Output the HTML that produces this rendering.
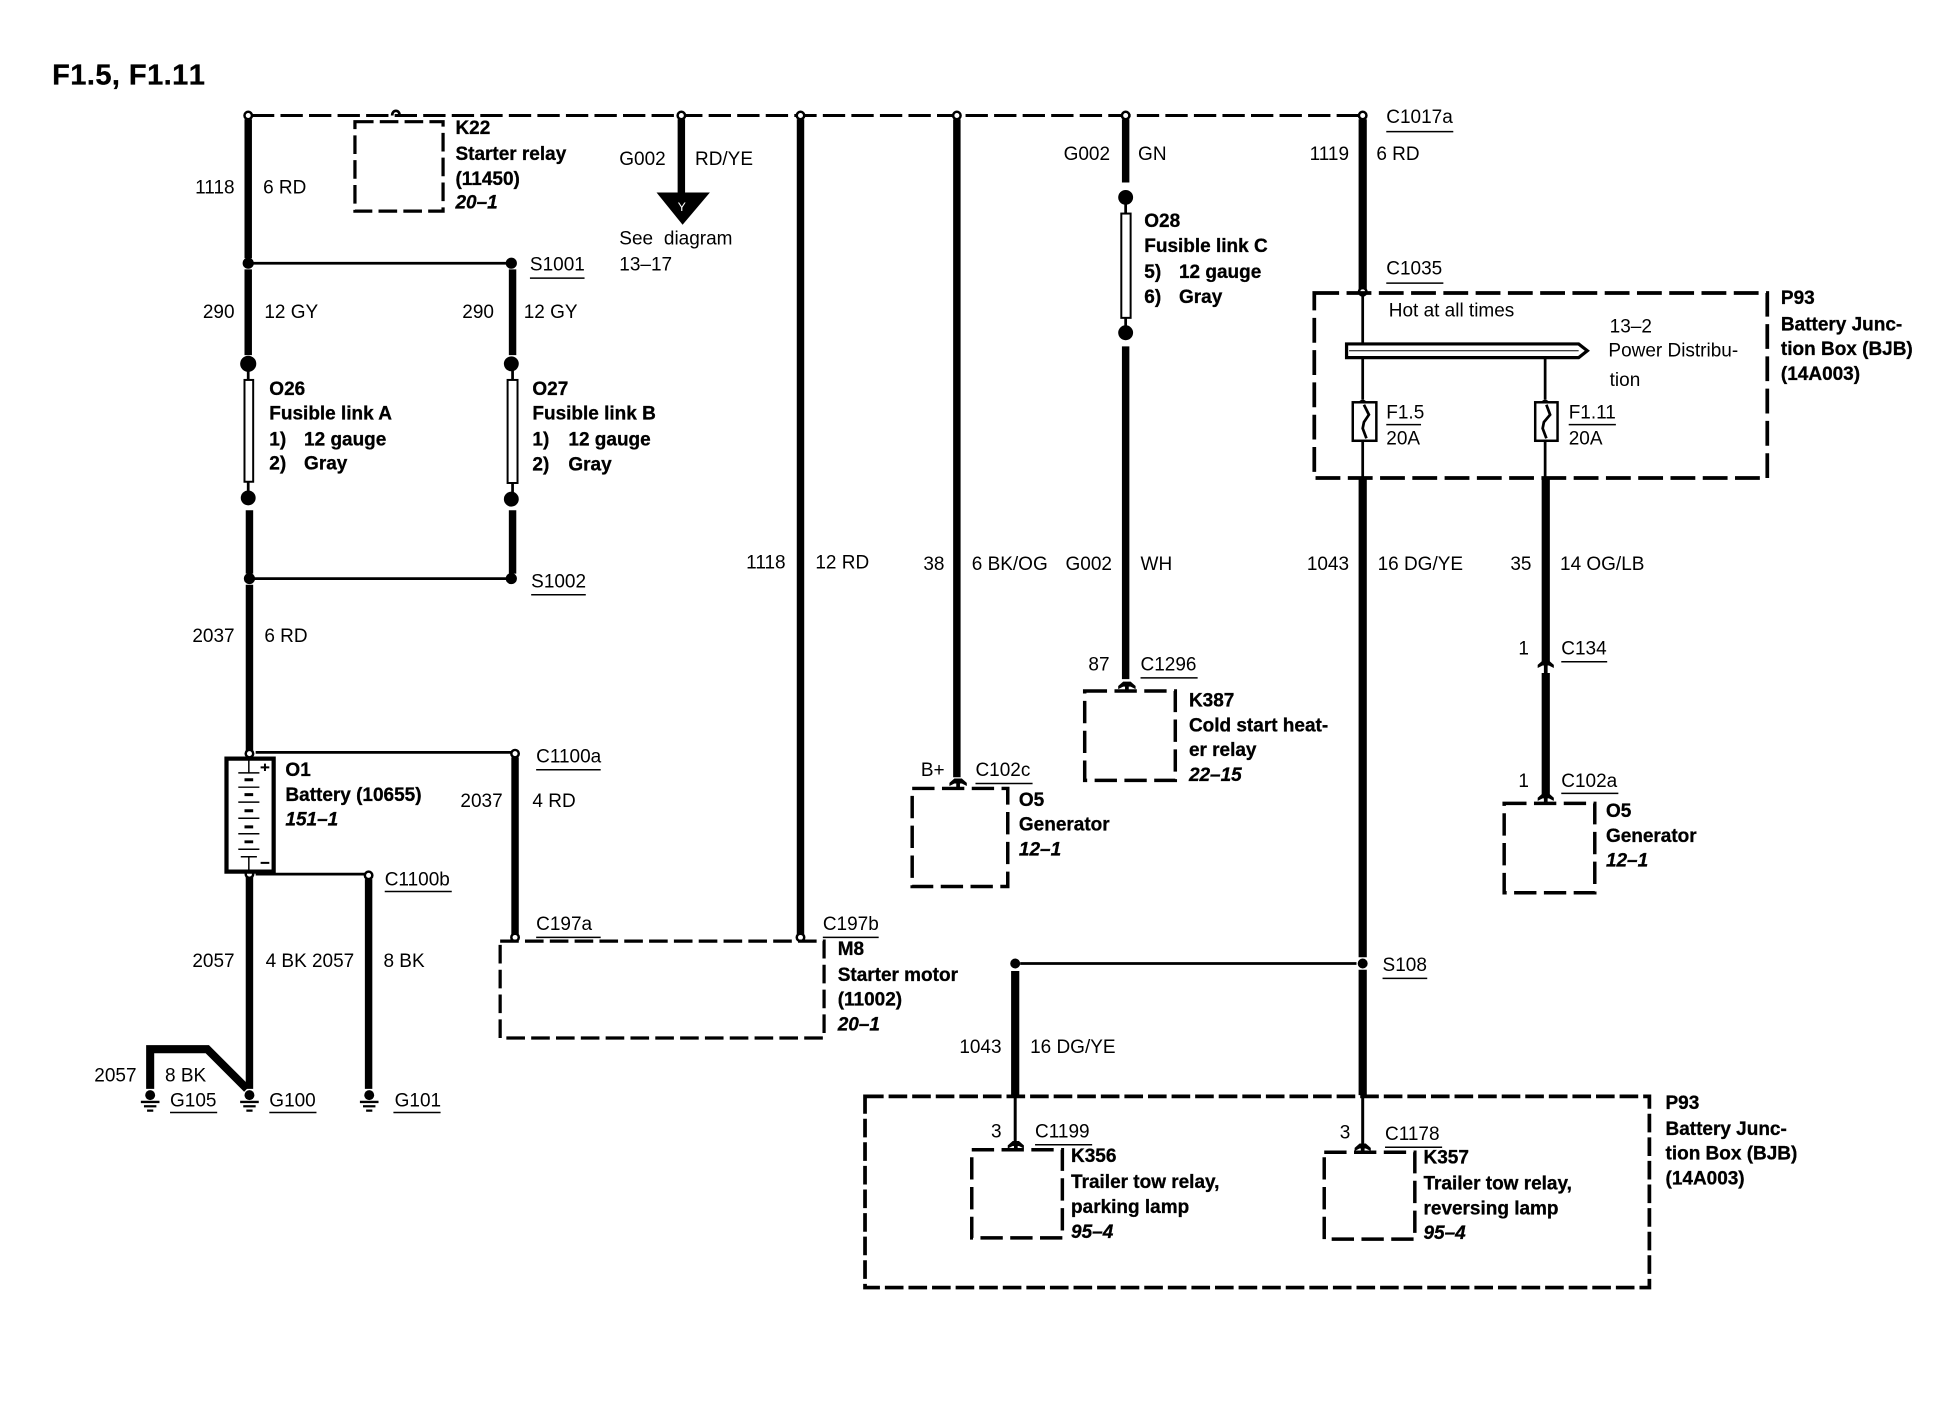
<!DOCTYPE html>
<html><head><meta charset="utf-8"><style>
html,body{margin:0;padding:0;background:#fff}
svg{display:block}
text{font-family:"Liberation Sans",sans-serif;font-size:15.3px;fill:#000}
.b{font-weight:bold;stroke:#000;stroke-width:.25}
.i{font-weight:bold;font-style:italic;stroke:#000;stroke-width:.25}
.e{text-anchor:end}
.w{stroke:#000;stroke-width:6;fill:none}
.t{stroke:#000;stroke-width:2.2;fill:none}
.d{stroke:#000;stroke-width:2.6;fill:none;stroke-dasharray:15 5}
.s{stroke:#000;stroke-width:2.8;fill:none;stroke-dasharray:18 6}
.l{stroke:#000;stroke-width:1.2;fill:none}
.o{fill:#fff;stroke:#000;stroke-width:2}
</style></head><body>
<svg width="1946" height="1408" viewBox="0 0 1568 1134" preserveAspectRatio="none" xmlns="http://www.w3.org/2000/svg">
<rect width="1568" height="1134" fill="#fff"/>
<text x="42" y="68" class="b" style="font-size:23.4px;letter-spacing:.35px;font-kerning:none">F1.5, F1.11</text>

<!-- top dashed bus -->
<path d="M203 93H1096" stroke="#000" stroke-width="2.4" fill="none" stroke-dasharray="18 5"/>
<path d="M316 93c0-5 6-5 6 0" class="t"/>

<!-- left column -->
<path class="w" d="M200 96V208M200 217V286M201 411V462M201 471V606M201 706V877M297 708V877M413 217V286M413 411V462M415 610V753M645 96V754M771 96V626M907 96V147M907 279V547M549 96V156"/>
<path class="t" d="M204 212H408M204 466H408M206 606H414M206 704H297M200 293V306M200 388V401M413 293V306M413 389V402M907 159V172M907 256V268"/>
<rect x="197" y="306" width="7" height="82" fill="#fff" stroke="#000" stroke-width="1.6"/>
<rect x="409" y="306" width="8" height="83" fill="#fff" stroke="#000" stroke-width="1.6"/>
<rect x="903.5" y="172" width="7.5" height="84" fill="#fff" stroke="#000" stroke-width="1.6"/>
<g fill="#000">
<circle cx="200" cy="212" r="4.5"/><circle cx="412" cy="212" r="4.5"/>
<circle cx="200" cy="293" r="6.5"/><circle cx="412" cy="293" r="6"/>
<circle cx="200" cy="401" r="6"/><circle cx="412" cy="402" r="6"/>
<circle cx="201" cy="466" r="4.5"/><circle cx="412" cy="466" r="4.5"/>
<circle cx="907" cy="159" r="6"/><circle cx="907" cy="268" r="6"/>
<circle cx="1098" cy="776" r="4"/><circle cx="818" cy="776" r="4"/>
</g>
<g class="o">
<circle class="o" cx="200" cy="93" r="3"/><circle class="o" cx="549" cy="93" r="3"/><circle class="o" cx="645" cy="93" r="3"/><circle class="o" cx="771" cy="93" r="3"/><circle class="o" cx="907" cy="93" r="3"/><circle class="o" cx="1098" cy="93" r="3"/>
<circle class="o" cx="1098" cy="235" r="3"/><circle class="o" cx="201" cy="607" r="3"/><circle class="o" cx="415" cy="607" r="3"/><circle class="o" cx="415" cy="755" r="3"/><circle class="o" cx="645" cy="755" r="3"/><circle class="o" cx="297" cy="705" r="3"/><circle class="o" cx="201" cy="704" r="3"/>
</g>

<!-- battery -->
<rect x="182.500" y="611" width="38" height="91" fill="#fff" stroke="#000" stroke-width="3.4"/>
<path class="l" stroke-width="1.6" d="M200.500 611V622M192 622.500H209M192 634H209M192 646H209M192 659H209M192 671.500H209M192 684H209M200.500 690V702M194 690H207"/>
<path d="M197 628H204M197 640H204M197 653H204M197 666H204M197 678H204" stroke="#000" stroke-width="2.4"/>
<path d="M210 618H217M213.500 615V621M210 695H217" stroke="#000" stroke-width="1.6"/>

<!-- grounds -->
<path d="M121 877V845H167L199 877" stroke="#000" stroke-width="6.500" fill="none"/>
<g fill="#000">
<circle cx="121" cy="882" r="4"/><path d="M113.500 887.500H128.500" stroke="#000" stroke-width="2"/><path d="M116 891H126" stroke="#000" stroke-width="1.8"/><path d="M118.500 894.500H123.500" stroke="#000" stroke-width="1.800"/>
<circle cx="201" cy="882" r="4"/><path d="M193.500 887.500H208.500" stroke="#000" stroke-width="2"/><path d="M196 891H206" stroke="#000" stroke-width="1.8"/><path d="M198.500 894.500H203.500" stroke="#000" stroke-width="1.8"/>
<circle cx="297.500" cy="882" r="4"/><path d="M290 887.500H305" stroke="#000" stroke-width="2"/><path d="M292.500 891H302.500" stroke="#000" stroke-width="1.8"/><path d="M295 894.500H300" stroke="#000" stroke-width="1.8"/>
</g>

<!-- Y arrow -->
<path d="M529 155H572L550 181Z" fill="#000"/>
<text x="546" y="170" style="fill:#fff;font-size:10px">Y</text>

<!-- dashed boxes -->
<rect class="d" x="286" y="98" width="71" height="72"/>
<rect class="d" x="403" y="758" width="261" height="78"/>
<rect class="s" x="874" y="556.500" width="73" height="72"/>
<rect class="s" x="735" y="635" width="77" height="79"/>
<rect class="s" x="1212" y="647" width="73" height="72"/>
<rect class="s" x="783" y="926" width="73" height="71"/>
<rect class="s" x="1067" y="928" width="73" height="70"/>
<rect class="d" x="1059" y="236" width="365" height="149" style="stroke-width:3;stroke-dasharray:20 6"/>
<rect class="d" x="697" y="883" width="632" height="154" style="stroke-width:3;stroke-dasharray:15 4"/>

<!-- right side wiring -->
<path class="w" d="M1098 96V233M1098 384V771M1098 781V882M818 782V882M1245.500 384V534M1245.500 542V640" style="stroke-width:6.600"/>
<path class="t" d="M1098 238V277M1098 288V322M1098 355V384M1245 288V322M1245 355V384M822 776H1093"/>
<path d="M1098 882V924M818 882V922" stroke="#000" stroke-width="2.400" fill="none"/>
<path d="M1085 277H1272L1279 282.500L1272 288H1085Z" fill="#fff" stroke="#000" stroke-width="2.6"/>
<path d="M1087 282.500H1272" stroke="#000" stroke-width=".8"/>
<circle cx="1098" cy="326" r="4" fill="#000"/><circle cx="1245" cy="326" r="4" fill="#000"/>
<rect x="1090" y="324" width="19" height="31" fill="#fff" stroke="#000" stroke-width="2"/>
<rect x="1237" y="324" width="18" height="31" fill="#fff" stroke="#000" stroke-width="2"/>
<path class="t" d="M1099 326l4 8-4 6-1 5 3 8M1246 326l3 8-5 6-1 5 3 8"/>

<!-- arrow terminals -->
<g fill="#000">
<path d="M901 555V552.500L905 549H911L915 552.500V555L911 553H909.500V557H906.500V553H905Z"/>
<path d="M765 633V630.500L769 627H775L779 630.500V633L775 631H773.500V636H770.500V631H769Z"/>
<path d="M1239 538V535.500L1243 532H1248L1252 535.500V538L1248 536H1247V543H1244V536H1243Z"/>
<path d="M1239 645V642.500L1243 639H1248L1252 642.500V645L1248 643H1247V648H1244V643H1243Z"/>
<path d="M812 925V922.500L816 919H821L825 922.500V925L821 923H820V927H817V923H816Z"/>
<path d="M1091.500 927V924.500L1095.500 921H1100.500L1104.500 924.500V927L1100.500 925H1099.500V929H1096.500V925H1095.500Z"/>
</g>

<!-- underlines -->
<path class="l" d="M427 224H471M428 479H472M432 620H484M310 718H364M432 755H484M663 755H708M1117 106H1171M1117 228H1163M1117 342H1145M1264 342H1302M919 546H965M786 631H832M1258 533H1295M1258 639H1304M834 922H880M1116 924H1162M137 896H175M217 896H255M317 896H355M1114 788H1150"/>

<!-- labels regular -->
<text x="189" y="156" class="e">1118</text><text x="212" y="156">6 RD</text>
<text x="189" y="256" class="e">290</text><text x="213" y="256">12 GY</text>
<text x="398" y="256" class="e">290</text><text x="422" y="256">12 GY</text>
<text x="427" y="218">S1001</text><text x="428" y="473">S1002</text>
<text x="189" y="517" class="e">2037</text><text x="213" y="517">6 RD</text>
<text x="405" y="650" class="e">2037</text><text x="429" y="650">4 RD</text>
<text x="432" y="614">C1100a</text><text x="310" y="713">C1100b</text>
<text x="432" y="749">C197a</text><text x="663" y="749">C197b</text>
<text x="189" y="779" class="e">2057</text><text x="214" y="779">4 BK 2057</text><text x="309" y="779">8 BK</text>
<text x="110" y="871" class="e">2057</text><text x="133" y="871">8 BK</text>
<text x="137" y="891">G105</text><text x="217" y="891">G100</text><text x="318" y="891">G101</text>
<text x="499" y="133">G002</text><text x="560" y="133">RD/YE</text>
<text x="499" y="197" style="word-spacing:4.5px">See diagram</text><text x="499" y="218">13–17</text>
<text x="857" y="129">G002</text><text x="917" y="129">GN</text>
<text x="633" y="458" class="e">1118</text><text x="657" y="458">12 RD</text>
<text x="761" y="459" class="e">38</text><text x="783" y="459">6 BK/OG</text>
<text x="896" y="459" class="e">G002</text><text x="919" y="459">WH</text>
<text x="1087" y="459" class="e">1043</text><text x="1110" y="459">16 DG/YE</text>
<text x="1234" y="459" class="e">35</text><text x="1257" y="459">14 OG/LB</text>
<text x="894" y="540" class="e">87</text><text x="919" y="540">C1296</text>
<text x="742" y="625">B+</text><text x="786" y="625">C102c</text>
<text x="1232" y="527" class="e">1</text><text x="1258" y="527">C134</text>
<text x="1232" y="634" class="e">1</text><text x="1258" y="634">C102a</text>
<text x="1117" y="99">C1017a</text>
<text x="1087" y="129" class="e">1119</text><text x="1109" y="129">6 RD</text>
<text x="1117" y="221">C1035</text>
<text x="1119" y="255">Hot at all times</text>
<text x="1297" y="268">13–2</text><text x="1296" y="287">Power Distribu-</text><text x="1297" y="311">tion</text>
<text x="1117" y="337">F1.5</text><text x="1117" y="358">20A</text>
<text x="1264" y="337">F1.11</text><text x="1264" y="358">20A</text>
<text x="1114" y="782">S108</text>
<text x="807" y="848" class="e">1043</text><text x="830" y="848">16 DG/YE</text>
<text x="807" y="916" class="e">3</text><text x="834" y="916">C1199</text>
<text x="1088" y="917" class="e">3</text><text x="1116" y="918">C1178</text>

<!-- labels bold -->
<text x="367" y="108" class="b">K22</text><text x="367" y="129" class="b">Starter relay</text><text x="367" y="149" class="b">(11450)</text><text x="367" y="168" class="i">20–1</text>
<text x="217" y="318" class="b">O26</text><text x="217" y="338" class="b">Fusible link A</text><text x="217" y="359" class="b">1)</text><text x="245" y="359" class="b">12 gauge</text><text x="217" y="378" class="b">2)</text><text x="245" y="378" class="b">Gray</text>
<text x="429" y="318" class="b">O27</text><text x="429" y="338" class="b">Fusible link B</text><text x="429" y="359" class="b">1)</text><text x="458" y="359" class="b">12 gauge</text><text x="429" y="379" class="b">2)</text><text x="458" y="379" class="b">Gray</text>
<text x="922" y="183" class="b">O28</text><text x="922" y="203" class="b">Fusible link C</text><text x="922" y="224" class="b">5)</text><text x="950" y="224" class="b">12 gauge</text><text x="922" y="244" class="b">6)</text><text x="950" y="244" class="b">Gray</text>
<text x="230" y="625" class="b">O1</text><text x="230" y="645" class="b">Battery (10655)</text><text x="230" y="665" class="i">151–1</text>
<text x="675" y="769" class="b">M8</text><text x="675" y="790" class="b">Starter motor</text><text x="675" y="810" class="b">(11002)</text><text x="675" y="830" class="i">20–1</text>
<text x="958" y="569" class="b">K387</text><text x="958" y="589" class="b">Cold start heat-</text><text x="958" y="609" class="b">er relay</text><text x="958" y="629" class="i">22–15</text>
<text x="821" y="649" class="b">O5</text><text x="821" y="669" class="b">Generator</text><text x="821" y="689" class="i">12–1</text>
<text x="1294" y="658" class="b">O5</text><text x="1294" y="678" class="b">Generator</text><text x="1294" y="698" class="i">12–1</text>
<text x="1435" y="245" class="b">P93</text><text x="1435" y="266" class="b">Battery Junc-</text><text x="1435" y="286" class="b">tion Box (BJB)</text><text x="1435" y="306" class="b">(14A003)</text>
<text x="1342" y="893" class="b">P93</text><text x="1342" y="914" class="b">Battery Junc-</text><text x="1342" y="934" class="b">tion Box (BJB)</text><text x="1342" y="954" class="b">(14A003)</text>
<text x="863" y="936" class="b">K356</text><text x="863" y="957" class="b">Trailer tow relay,</text><text x="863" y="977" class="b">parking lamp</text><text x="863" y="997" class="i">95–4</text>
<text x="1147" y="937" class="b">K357</text><text x="1147" y="958" class="b">Trailer tow relay,</text><text x="1147" y="978" class="b">reversing lamp</text><text x="1147" y="998" class="i">95–4</text>
</svg>
</body></html>
